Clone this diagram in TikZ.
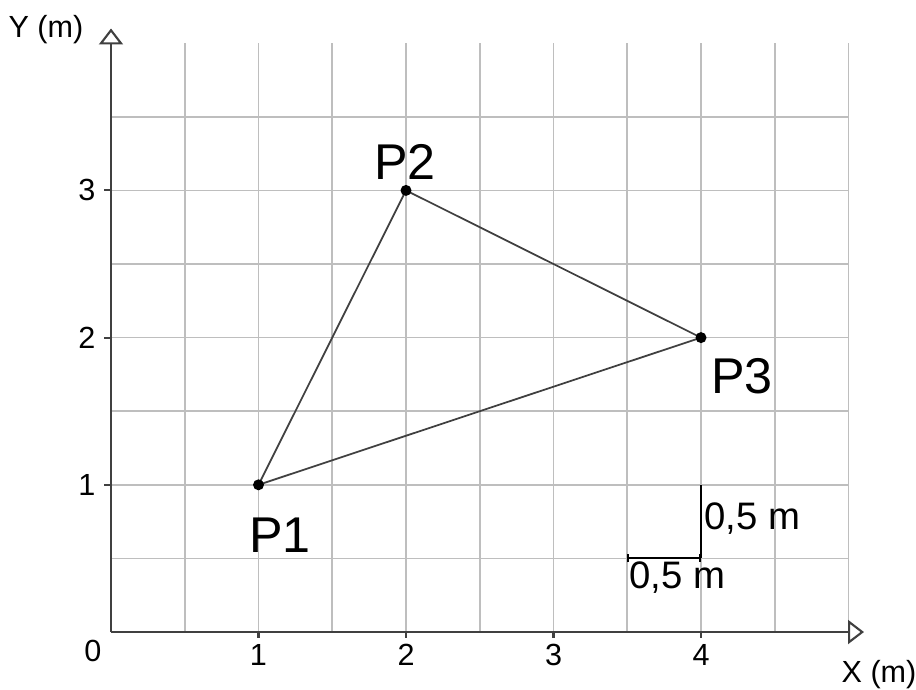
\documentclass[tikz,border=0pt]{standalone}
\usepackage{fontspec}
\setmainfont{Liberation Sans}
\usetikzlibrary{arrows.meta}
\definecolor{Grid}{HTML}{BEBEBE}
\definecolor{Axis}{HTML}{404040}

\begin{document}
\begin{tikzpicture}[x=1.475cm,y=1.472cm,
grid/.style={draw=Grid,line width=0.45pt},
axis/.style={draw=Axis,line width=0.6pt,-{Triangle[open,length=1.6mm,width=2.4mm]}},
tick/.style={draw=Axis,line width=0.6pt},
edge/.style={draw=Axis,line width=0.5pt},
bar/.style={draw=black,line width=0.6pt},
dot/.style={circle,fill=black,inner sep=0pt,minimum size=1.1mm},
lbl/.style={font=\fontsize{14.3}{16}\selectfont,inner sep=0pt},
num/.style={font=\fontsize{8.7}{10}\selectfont,inner sep=0pt},
meas/.style={font=\fontsize{10.9}{12}\selectfont,inner sep=0pt}]
\useasboundingbox (-0.7525,-0.3872) rectangle (5.4576,4.2935);
% grid
\foreach \x in {0.5,1,...,5} \draw[grid] (\x,0) -- (\x,4);
\foreach \y in {0.5,1,...,3.5} \draw[grid] (0,\y) -- (5,\y);
% axes
\coordinate (o) at (0,0);
\coordinate (xend) at (5.105,0);
\coordinate (yend) at (0,4.1);
\draw[axis] (o) -- (xend);
\draw[axis] (o) -- (yend);
\node[num] (xname) at (5.207,-0.292) {X (m)};
\node[num] (yname) at (-0.441,4.09) {Y (m)};
\node[num] (zero) at (-0.122,-0.129) {0};
\foreach \x in {1,...,4} {
  \draw[tick] (\x,0) -- (\x,-0.04);
  \node[num] (xl\x) at (\x,-0.156) {\x};
}
\foreach \y in {1,2,3} {
  \draw[tick] (0,\y) -- (-0.05,\y);
  \node[num] (yl\y) at (-0.163,\y) {\y};
}
% points
\coordinate (p1) at (1,1);
\coordinate (p2) at (2,3);
\coordinate (p3) at (4,2);
\draw[edge] (p1) -- (p2) -- (p3) -- (p1);
\foreach \p in {p1,p2,p3} \node[dot] at (\p) {};
\node[lbl] (l1) at (1.146,0.659) {P1};
\node[lbl] (l2) at (1.993,3.19) {P2};
\node[lbl] (l3) at (4.278,1.74) {P3};
% scale
\coordinate (s1) at (3.5,0.5);
\coordinate (s2) at (4,0.5);
\coordinate (s3) at (4,1);
\draw[bar,{Bar[width=0.8mm]}-{Bar[width=0.8mm]}] (s1) -- (s2);
\draw[bar] (s2) -- (s3);
\node[meas,anchor=west] (sv) at (4.02,0.768) {0,5 m};
\node[meas,anchor=west] (sh) at (3.51,0.367) {0,5 m};
\end{tikzpicture}
\end{document}
